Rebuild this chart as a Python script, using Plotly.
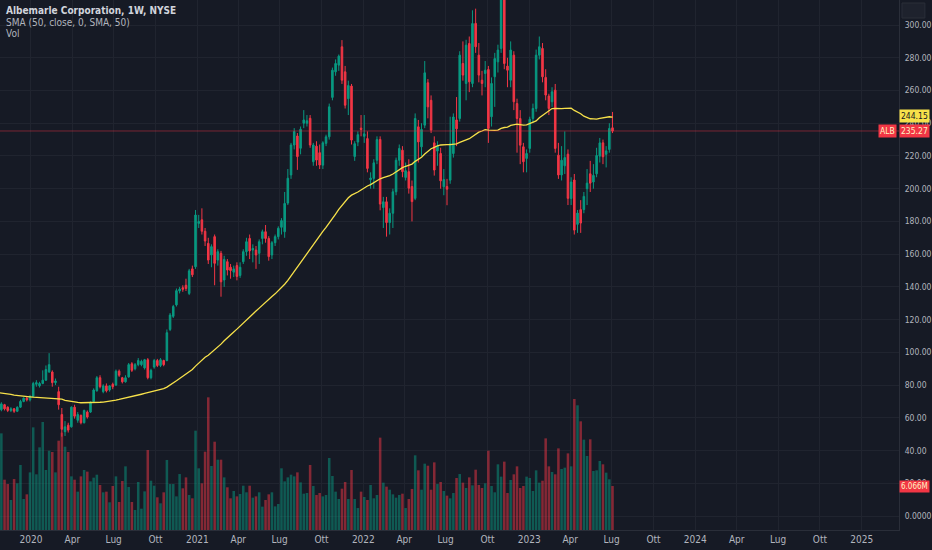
import pandas as pd
import plotly.graph_objects as go

# ---------------- data ----------------
start_week = "2019-10-21"
n_weeks = 194

opens = [63, 65, 68, 66.5, 64.5, 65.5, 64, 66.5, 70, 72, 71, 73, 80.5, 79.5, 81, 83, 88, 88, 81.5, 76,
         62, 51.5, 55.5, 54.5, 66.5, 58.5, 61.5, 57, 63.5, 63.5, 70, 76.5, 84.5, 76, 79.5, 77, 80.5, 80, 88.5, 84.5,
         82, 85, 93, 90, 92.5, 92.5, 90.5, 95.5, 84.5, 91, 95, 92, 95, 95, 114, 122, 129, 137.5, 139.5, 141,
         136, 151, 152.3, 178.8, 181, 174, 166.6, 159.5, 170.7, 156.4, 160.5, 144.2, 155.4, 152, 149, 153, 147, 155.4, 161.5, 169.6,
         162.5, 162.5, 160.5, 169.6, 173.7, 169.6, 159.5, 167, 170.7, 176.4, 173.7, 191.2, 208.4, 226.7, 232.2, 224.7, 240, 240, 243, 216.5,
         226, 222, 214.4, 227.7, 231.7, 255.8, 271.4, 275.5, 286.7, 271.4, 255, 262.7, 219.7, 228.5, 237, 232, 230.6, 205.5, 206.3, 217.4,
         230.1, 188.5, 192, 179.3, 185, 198.1, 217.4, 223.5, 206.9, 210.4, 201.3, 194.1, 237.8, 225.6, 238.8, 264.7, 254, 228, 223, 221.5,
         201.2, 201.3, 205.2, 221.5, 242, 242.9, 276.5, 264.3, 288.7, 264.3, 301, 281.6, 266.3, 270.4, 272.8, 244, 268.4, 277.5, 285.7, 318,
         274.9, 266.3, 281.6, 252, 242.9, 225.6, 218.5, 224.6, 242.9, 249, 281.6, 285.7, 268, 256.6, 253.1, 260.2, 220.5, 208.4, 214, 221.1,
         194, 205.3, 178.2, 187.2, 187.2, 200, 209.1, 204.1, 209.1, 219.9, 228, 221, 224, 237.2]
highs = [67, 69.5, 68.5, 67, 66.5, 66, 67, 71, 72.5, 73, 74, 82, 83, 82, 89, 92, 99.5, 89, 84, 79,
         66, 58, 57, 67, 68, 63.5, 62, 65, 64.5, 70, 78, 85.5, 86, 80.5, 81, 80, 81.5, 89.5, 89.5, 85,
         86, 93.5, 94, 93.5, 96.5, 95.5, 96, 96.5, 90, 96, 96, 96.5, 95.5, 114, 124, 129, 139, 140, 141, 145,
         151, 153, 187, 184, 188, 176, 170, 166, 172, 163, 162, 159, 157, 154, 153, 155, 155, 163, 170, 172,
         166, 165, 169, 175, 177.8, 171, 168, 172, 177, 182, 198, 212, 228, 237, 234, 238, 248, 245, 245, 228,
         229, 227, 229, 233, 252, 274, 279, 282, 290.8, 275, 266, 264, 229, 235, 245, 245, 235, 210, 218, 232,
         232, 195, 195, 188, 200, 219, 227, 226, 216, 218, 205, 246, 242, 240, 278, 267, 257, 232, 229, 225,
         212, 206, 244, 246, 256, 284, 290, 291, 293, 309, 310, 289, 272, 278, 275, 268, 283, 288, 334, 324,
         280, 290, 284, 255, 248, 228, 224, 244, 252, 285, 293, 289, 273, 258, 262, 264, 228, 226, 235, 224,
         207, 209, 187, 193, 198, 212, 217, 215, 225, 231, 230, 226, 240, 246.9]
lows = [62, 64, 64.5, 63.5, 63.5, 63, 63.5, 66, 69.5, 70, 70, 72.5, 79, 78.5, 80.5, 82.5, 87.5, 79, 80, 65,
        48.5, 48.9, 51, 54, 59.5, 57, 56, 56.5, 59.5, 63, 69.5, 76, 78, 75, 75.5, 76, 77.5, 79.5, 85, 81,
        81.5, 84.5, 88, 89, 91.5, 91.5, 89.5, 83.5, 83.5, 90, 91, 91, 91.5, 94.5, 113, 121, 128, 136, 137, 137.5,
        135, 146, 151, 176, 172, 165, 154, 152, 141, 153, 134, 140, 147, 145, 146, 144, 145.5, 154, 159, 157,
        155, 151, 154, 166, 167, 156, 157, 165, 169, 172, 170, 190, 206, 224, 211.5, 221, 237, 238, 225, 214,
        214, 212, 212, 226, 230, 254, 269, 272, 264, 249, 245, 227, 217, 226, 232, 228, 210, 200, 200, 215,
        186.8, 176, 170.7, 172, 176, 196, 214, 207, 205, 197, 180, 193, 216, 220, 237, 243, 234, 208, 214, 200,
        196, 189.9, 203, 219, 226, 241, 266, 254, 259, 262, 283, 265, 257, 262, 228, 238, 250, 271, 283, 273,
        262, 262, 248, 222, 215, 210, 210, 222, 240, 247, 279, 265, 254, 245, 250, 222, 206, 205, 209, 190,
        190, 172, 173, 173, 185, 190, 198, 200, 207, 216, 215, 213, 222, 234]
closes = [66, 68.5, 65.5, 64.5, 65.5, 64, 66.5, 70, 72, 71, 73, 81, 81.5, 81, 83, 89.5, 92.5, 81.5, 82.5, 68,
          53, 54.5, 52.5, 66.5, 61, 62, 57, 64.5, 60.5, 69.5, 77, 84.5, 79, 79.5, 76.5, 79.5, 79, 88.5, 86, 82,
          84.5, 92.5, 89, 92.5, 95, 94.5, 95.5, 84.5, 89, 95, 92, 95.5, 92.5, 112, 122.8, 128, 137.7, 138.7, 138.5, 139,
          149.8, 147.4, 183.9, 180, 174, 168, 156.4, 164.6, 154.4, 161.5, 143.1, 156.8, 150.3, 150, 151, 146.4, 152, 161.5, 167.6, 162,
          163.5, 159.5, 167.6, 173.7, 169.6, 158.5, 167, 170.7, 175.8, 180.5, 191, 206.4, 226.7, 234.9, 219.6, 236.3, 242, 241.5, 226.7, 226.7,
          217.5, 214.5, 228, 231.7, 250, 272.4, 276.5, 281, 266.3, 251, 263, 229.7, 227.5, 233, 236.2, 233.5, 212.4, 206.5, 215.8, 230,
          190.6, 192, 179.3, 185, 198.1, 217.4, 224.6, 210.4, 211, 200.3, 192.1, 242.9, 228.6, 236.2, 270.8, 250, 235.8, 211.4, 226, 204.8,
          205.6, 199.7, 227.5, 243.8, 236.6, 281.6, 269.4, 287.7, 265.3, 300.9, 286.7, 269.4, 264.3, 272.4, 236.8, 264.3, 279.5, 284.7, 322, 276.5,
          272.4, 284.7, 253.1, 242.9, 226.6, 216.5, 221.5, 242.4, 249, 281.6, 286.7, 268.4, 257.2, 249, 259.2, 224.6, 208.4, 217.4, 219, 194.1,
          204.1, 174.7, 185.1, 179, 195.3, 203.4, 203.4, 208.1, 220.3, 228, 219.5, 223.1, 236.8, 235.27]
volumes_m = [12.78, 13.33, 6.94, 6.34, 4.14, 7.03, 6.44, 8.97, 4.28, 4.92, 7.95, 14.16, 7.68, 11.40, 14.90, 8.28, 10.94, 10.76, 7.95, 12.32,
             13.43, 11.49, 10.76, 7.40, 6.94, 5.29, 7.40, 8.28, 8.05, 6.71, 7.22, 7.63, 6.21, 5.20, 5.29, 3.82, 6.07, 7.40, 3.86, 6.76,
             8.78, 5.93, 3.86, 2.76, 6.62, 2.94, 5.33, 11.03, 6.80, 6.11, 4.51, 3.68, 5.20, 9.66, 6.34, 6.34, 4.64, 7.72, 5.75, 7.26,
             4.83, 4.37, 13.70, 8.51, 6.44, 10.80, 18.30, 8.83, 12.18, 9.70, 9.70, 7.26, 5.89, 4.37, 5.38, 4.64, 4.97, 6.11, 5.20, 6.11,
             4.46, 4.64, 5.20, 3.22, 4.14, 4.92, 5.20, 3.26, 3.59, 8.51, 6.71, 7.26, 7.63, 7.40, 7.95, 6.57, 5.01, 5.10, 8.97, 6.07,
             4.83, 5.10, 4.64, 4.83, 9.93, 7.45, 5.29, 4.28, 5.70, 6.62, 4.28, 8.28, 4.28, 3.03, 5.29, 4.55, 4.14, 6.21, 4.37, 4.83,
             12.74, 6.53, 5.98, 5.56, 4.92, 4.46, 4.83, 5.01, 3.03, 4.28, 5.66, 10.30, 8.23, 5.56, 9.15, 8.87, 5.56, 9.33, 6.34, 6.62,
             5.38, 4.74, 4.37, 5.10, 7.17, 7.72, 6.53, 5.79, 7.26, 6.16, 8.32, 6.21, 5.79, 6.44, 10.94, 6.07, 5.20, 9.06, 7.36, 9.43,
             5.10, 6.90, 7.68, 8.78, 5.79, 6.07, 7.36, 7.17, 5.38, 8.23, 6.53, 6.80, 12.64, 8.78, 8.00, 7.68, 11.26, 8.41, 8.60, 10.57,
             8.78, 18.07, 17.20, 14.99, 12.46, 10.21, 12.51, 8.14, 8.23, 9.52, 9.06, 7.91, 6.99, 6.066]
# SMA(50) values for the first 49 weeks (need history before the window)
sma_head = [75.4, 75.2, 75.0, 74.7, 74.3, 73.9, 73.6, 73.3, 73.1, 72.9, 72.8, 72.6, 72.5, 72.4, 72.3, 72.3, 72.2, 72.1, 72.0, 71.9,
            71.4, 70.7, 70.3, 69.9, 69.6, 69.4, 69.2, 69.2, 69.1, 69.1, 69.2, 69.3, 69.5, 69.6, 69.8, 70.1, 70.4, 70.8, 71.2, 71.6,
            72.0, 72.4, 72.9, 73.4, 73.9, 74.4, 74.9, 75.4, 75.9]
sma_last_label = "244.15"
last_price_label = "235.27"
last_volume_label = "6.066M"
ticker = "ALB"

x_tick_dates = ["2020-01-01", "2020-04-01", "2020-07-01", "2020-10-01", "2021-01-01", "2021-04-01", "2021-07-01",
                "2021-10-01", "2022-01-01", "2022-04-01", "2022-07-01", "2022-10-01", "2023-01-01", "2023-04-01",
                "2023-07-01", "2023-10-01", "2024-01-01", "2024-04-01", "2024-07-01", "2024-10-01", "2025-01-01"]
x_tick_text = ["2020", "Apr", "Lug", "Ott", "2021", "Apr", "Lug", "Ott", "2022", "Apr", "Lug", "Ott", "2023", "Apr",
               "Lug", "Ott", "2024", "Apr", "Lug", "Ott", "2025"]
y_tick_vals = [0, 20, 40, 60, 80, 100, 120, 140, 160, 180, 200, 220, 240, 260, 280, 300]
y_tick_text = ["0.0000", "20.00", "40.00", "60.00", "80.00", "100.00", "120.00", "140.00", "160.00", "180.00",
               "200.00", "220.00", "240.00", "260.00", "280.00", "300.00"]

legend_lines = ["Albemarle Corporation, 1W, NYSE", "SMA (50, close, 0, SMA, 50)", "Vol"]

# ---------------- build ----------------
dates = pd.date_range(start_week, periods=n_weeks, freq="W-MON")
close_s = pd.Series(closes)
sma = list(sma_head) + list(close_s.rolling(50).mean().iloc[49:])

UP = "#089981"
DOWN = "#f23645"
BG = "#161a25"
GRID = "#20242f"
TXT = "#b2b5be"
FONT = "Liberation Sans Narrow, DejaVu Sans Condensed, sans-serif"

vol_colors = ["rgba(8,153,129,0.5)" if c >= o else "rgba(242,54,69,0.5)" for o, c in zip(opens, closes)]

fig = go.Figure()
fig.add_trace(go.Bar(x=dates, y=volumes_m, marker=dict(color=vol_colors, line=dict(width=0)),
                     width=5.6 * 86400000, yaxis="y", hoverinfo="skip", showlegend=False))
fig.add_trace(go.Candlestick(x=dates, open=opens, high=highs, low=lows, close=closes,
                             increasing=dict(line=dict(color=UP, width=1), fillcolor=UP),
                             decreasing=dict(line=dict(color=DOWN, width=1), fillcolor=DOWN),
                             whiskerwidth=0, yaxis="y2", showlegend=False))
fig.add_trace(go.Scatter(x=dates, y=sma, mode="lines", line=dict(color="#f7e14a", width=1.3),
                         yaxis="y2", hoverinfo="skip", showlegend=False))

# last price line
fig.add_shape(type="line", xref="paper", x0=0, x1=1, yref="y2", y0=float(last_price_label), y1=float(last_price_label),
              line=dict(color="rgba(242,54,69,0.45)", width=1))

fig.update_layout(
    width=932, height=550,
    margin=dict(l=0, r=29, t=0, b=20),
    paper_bgcolor=BG, plot_bgcolor=BG,
    font=dict(family=FONT, color=TXT, size=9),
    xaxis=dict(type="date", range=["2019-10-25", "2025-03-24"], tickvals=x_tick_dates, ticktext=x_tick_text,
               showgrid=True, gridcolor=GRID, gridwidth=1, zeroline=False, ticks="", tickfont=dict(size=10, color=TXT),
               showline=True, linecolor="#2a2e39", rangeslider=dict(visible=False), fixedrange=True),
    yaxis=dict(range=[0, 73.1], visible=False, showgrid=False, zeroline=False, fixedrange=True),
    yaxis2=dict(overlaying="y", side="right", range=[-8.55, 315.3], tickvals=y_tick_vals, ticktext=y_tick_text,
                showgrid=True, gridcolor=GRID, gridwidth=1, zeroline=False, ticks="", ticklabelstandoff=3,
                tickfont=dict(size=8.5, color=TXT), showline=True, linecolor="#2a2e39", fixedrange=True),
    hovermode=False,
)

# legend texts
for k, t in enumerate(legend_lines):
    fig.add_annotation(xref="paper", yref="paper", x=4 / 903, y=1 - (11 + 11.5 * k) / 530, xanchor="left", yanchor="middle",
                       text=("<b>%s</b>" % t) if k == 0 else t, showarrow=False,
                       font=dict(family=FONT, size=10, color="#d1d4dc" if k == 0 else TXT))

# right-hand labels
fig.add_annotation(xref="paper", yref="y2", x=1.0, y=float(sma_last_label), xanchor="left", yanchor="middle",
                   text=sma_last_label, showarrow=False, bgcolor="#f7e14a", borderpad=1,
                   font=dict(family=FONT, size=8.5, color="#131722"))
fig.add_annotation(xref="paper", yref="y2", x=1.0, y=float(last_price_label), xanchor="left", yanchor="middle",
                   text=last_price_label, showarrow=False, bgcolor=DOWN, borderpad=1,
                   font=dict(family=FONT, size=8.5, color="#fff3c4"))
fig.add_annotation(xref="paper", yref="y2", x=1.0 - 2 / 903, y=float(last_price_label), xanchor="right", yanchor="middle",
                   text=ticker, showarrow=False, bgcolor=DOWN, borderpad=1,
                   font=dict(family=FONT, size=8.5, color="#fff3c4"))
fig.add_annotation(xref="paper", yref="y", x=1.0, y=volumes_m[-1], xanchor="left", yanchor="middle",
                   text=last_volume_label, showarrow=False, bgcolor=DOWN, borderpad=1,
                   font=dict(family=FONT, size=8, color="#fff3c4"))
# small settings button top-right
fig.add_shape(type="rect", xref="paper", yref="paper", x0=906 / 903, x1=929 / 903, y0=1 - 18 / 530, y1=1 - 3 / 530,
              line=dict(color="#2a2e39", width=1), fillcolor="#1e222d")

fig.write_html("out.html", config={"displayModeBar": False},
               post_script="document.body.style.margin='0';document.body.style.overflow='hidden';")
